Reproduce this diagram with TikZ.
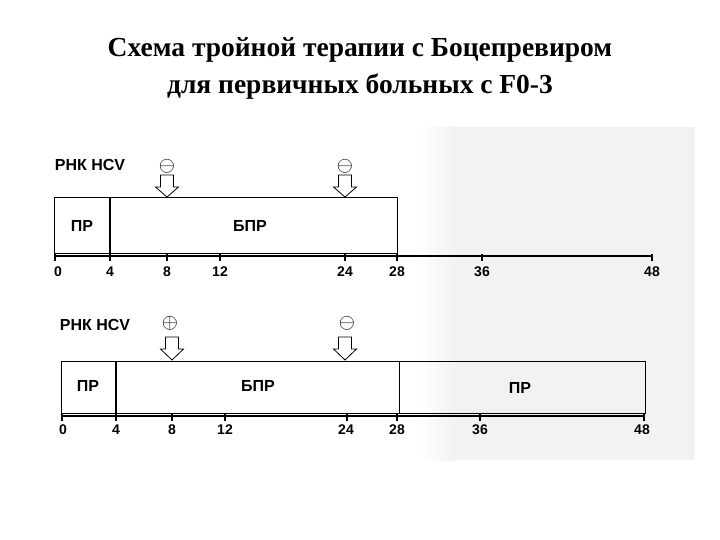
\documentclass[tikz,border=0pt]{standalone}
\usepackage{fontspec}
\setmainfont{Liberation Serif}
\setsansfont{Liberation Sans}
\usepackage{amsmath}
\usepackage{amssymb}

\begin{document}
\begin{tikzpicture}[x=1pt,y=-1pt,
	lab/.style={font=\sffamily\bfseries\fontsize{16}{16}\selectfont, inner sep=0pt},
	num/.style={font=\sffamily\bfseries\fontsize{14}{14}\selectfont, inner sep=0pt},
	sign/.style={font=\fontsize{22}{22}\selectfont, inner sep=0pt},
	bar/.style={draw, line width=0.9pt},
	axis/.style={line width=1.8pt},
	bigarrow/.style={draw, line width=0.8pt, fill=white}]
	\useasboundingbox (0,0) rectangle (720,540);
	% scanned page behind the right part
	\fill[black!5] (455,127) rectangle (695,460);
	\shade[left color=white, right color=black!5] (420,127) rectangle (455,460);

	\node[font=\bfseries\fontsize{27.5}{37}\selectfont, align=center] (title) at (360,68)
		{Схема тройной терапии с Боцепревиром\\для первичных больных с F0-3};

	% first scheme
	\node[lab] (rna1) at (90,165) {РНК HCV};
	\draw[bar] (54,197) rectangle (397,253);
	\draw[line width=1.3pt] (110,197) -- (110,253);
	\node[lab] (pr1) at (82,226) {ПР};
	\node[lab] (bpr1) at (250,226) {БПР};
	\draw[axis] (54,256) -- (652,256);
	\foreach \t/\x/\lx in {0/55/58,4/110/110,8/167/167,12/220/220,24/345/345,28/397/397,36/482/482,48/652/652} {
		\draw[line width=1.2pt] (\x,254) -- (\x,261);
		\node[num] (ta\t) at (\lx,272) {\t};
	}
	\node[sign] (sa8) at (167,166) {$\ominus$};
	\node[sign] (sa24) at (345,166) {$\ominus$};
	\foreach \x in {167,345}
		\draw[bigarrow] ({\x-6.5},175) -- ({\x+6.5},175) -- ({\x+6.5},187) -- ({\x+11.5},187)
			-- (\x,197) -- ({\x-11.5},187) -- ({\x-6.5},187) -- cycle;

	% second scheme
	\node[lab] (rna2) at (95,325) {РНК HCV};
	\draw[bar] (61,361) rectangle (645,413);
	\draw[line width=1.3pt] (116,361) -- (116,413);
	\draw[line width=0.8pt] (399,361) -- (399,413);
	\node[lab] (pr2) at (88,386) {ПР};
	\node[lab] (bpr2) at (258,386) {БПР};
	\node[lab] (pr3) at (520,388) {ПР};
	\draw[axis] (61,416) -- (645,416);
	\foreach \t/\x/\lx in {0/62/63,4/116/116,8/172/172,12/225/225,24/347/346,28/397/397,36/480/480,48/644/642} {
		\draw[line width=1.2pt] (\x,414) -- (\x,421);
		\node[num] (tb\t) at (\lx,430) {\t};
	}
	\node[sign] (sb8) at (170,323) {$\oplus$};
	\node[sign] (sb24) at (347,323) {$\ominus$};
	\foreach \x in {172,345}
		\draw[bigarrow] ({\x-6.5},337) -- ({\x+6.5},337) -- ({\x+6.5},349) -- ({\x+11.5},349)
			-- (\x,360) -- ({\x-11.5},349) -- ({\x-6.5},349) -- cycle;
\end{tikzpicture}
\end{document}
